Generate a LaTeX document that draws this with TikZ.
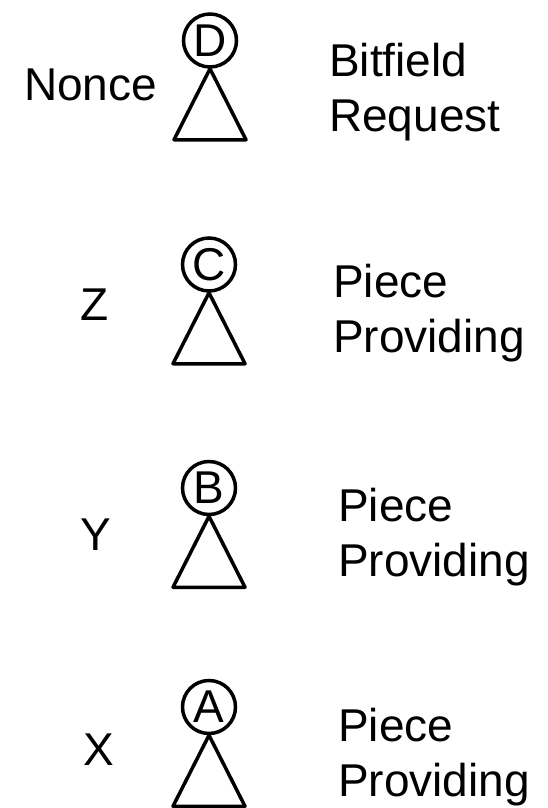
\documentclass[tikz,border=0pt]{standalone}
\usepackage{fontspec}
\setmainfont{Liberation Sans}
\usepackage{tikz}
\usetikzlibrary{positioning}
\tikzset{
    peer/.style     = {draw, circle, line width=3.5pt, minimum size=53pt, inner sep=0pt,
                       font=\fontsize{46}{55}\selectfont},
    peername/.style = {anchor=base, inner sep=0pt, font=\fontsize{46}{55}\selectfont},
    roletext/.style = {anchor=north west, align=left, inner sep=0pt,
                       font=\fontsize{46}{55}\selectfont},
    tri/.style      = {line width=3.5pt, line join=round}
}
\begin{document}
\begin{tikzpicture}[x=1pt, y=-1pt]
    \useasboundingbox (0,0) rectangle (547,808);

    \node[peer] (d) at (210,40.5) {D};
    \node[peer] (c) at (209,264.5) {C};
    \node[peer] (b) at (209,488) {B};
    \node[peer] (a) at (209,707) {A};

    \draw[tri] (d.south) -- ++(-36,71) -- ++(72,0) -- cycle;
    \draw[tri] (c.south) -- ++(-36,71) -- ++(72,0) -- cycle;
    \draw[tri] (b.south) -- ++(-36,71) -- ++(72,0) -- cycle;
    \draw[tri] (a.south) -- ++(-36,71) -- ++(72,0) -- cycle;

    \node[peername] (nonce) at (90.5,100.5) {Nonce};
    \node[peername] (z) at (94.5,320) {Z};
    \node[peername] (y) at (96,550) {Y};
    \node[peername] (x) at (98.5,765) {X};

    \node[roletext] (dreq) at (329,43) {Bitfield\\Request};
    \node[roletext] (cpro) at (333,264) {Piece\\Providing};
    \node[roletext] (bpro) at (338,488) {Piece\\Providing};
    \node[roletext] (apro) at (338,708) {Piece\\Providing};
\end{tikzpicture}
\end{document}
